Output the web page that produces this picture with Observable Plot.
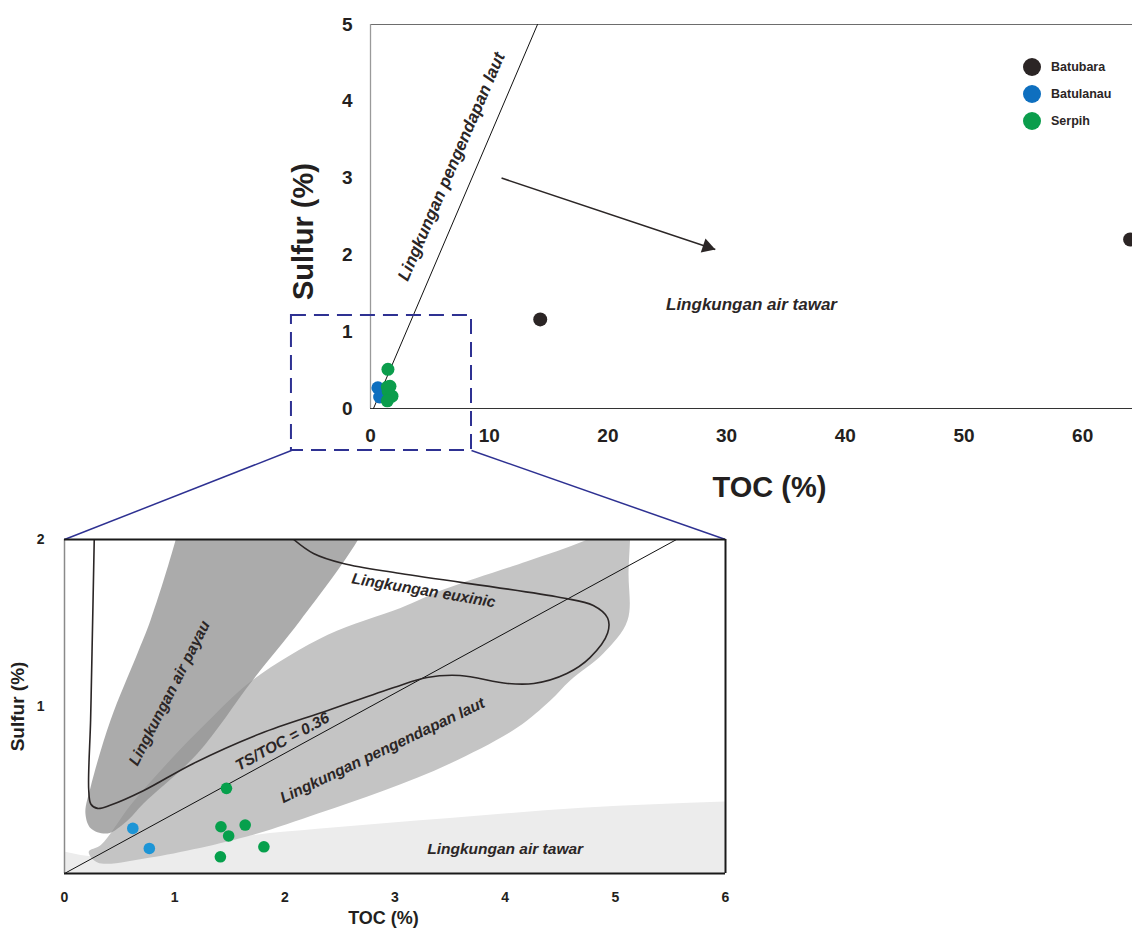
<!DOCTYPE html>
<html><head><meta charset="utf-8">
<script src="https://cdn.jsdelivr.net/npm/d3@7"></script>
<script src="https://cdn.jsdelivr.net/npm/@observablehq/plot@0.6"></script>
<style>
body{margin:0;background:#fff;}
#wrap{position:relative;width:1132px;height:931px;overflow:hidden;font-family:"Liberation Sans",Arial,sans-serif;}
#top{position:absolute;left:0;top:0;}
#bottom{position:absolute;left:0;top:500px;}
#legend{position:absolute;left:1023px;top:53.5px;}
.item{display:flex;align-items:center;height:27px;font-weight:bold;font-size:12.5px;color:#2b2525;}
.sw{width:18px;height:18px;border-radius:50%;margin-right:10px;}
</style></head><body>
<div id="wrap"><div id="top"></div><div id="bottom"></div><div id="legend"></div></div>
<script>
// ---- categories & colours
const types = ["Batubara", "Batulanau", "Serpih"];
const topColors = ["#2b2525", "#0e6fbf", "#0b9d4c"];
const bottomColors = ["#2b2525", "#1d95d6", "#06a04c"];

// ---- samples (TOC %, S %)
const sampleType = ["Batulanau", "Batulanau", "Serpih", "Serpih", "Serpih", "Serpih", "Serpih", "Serpih"];
const sampleToc = [0.62, 0.77, 1.47, 1.42, 1.49, 1.64, 1.81, 1.415];
const sampleS = [0.27, 0.15, 0.51, 0.28, 0.225, 0.29, 0.16, 0.10];
const coalType = ["Batubara", "Batubara"];
const coalToc = [14.3, 64.0];
const coalS = [1.16, 2.2];

// ---- ticks
const topXTicks = [0, 10, 20, 30, 40, 50, 60];
const topYTicks = [0, 1, 2, 3, 4, 5];
const topTocMax = 64.2;
const botXTicks = [0, 1, 2, 3, 4, 5, 6];
const botYTicks = [1, 2];

// ---- top chart annotations
const topRatioToc = [0.25, 14.07];
const topRatioS = [0, 5];
const arrowToc = [11.04, 29.05];
const arrowS = [3.0, 2.07];
const topLabelText = ["Lingkungan pengendapan laut", "Lingkungan air tawar"];
const topLabelToc = [6.82, 32.1];
const topLabelS = [3.15, 1.354];
const topLabelAngle = [-66.7, 0];
const zoomBoxToc = [-6.66, 8.51];
const zoomBoxS = [-0.547, 1.21];
const linkFromToc = [-6.66, 8.51];
const linkFromS = [-0.547, -0.547];
const linkToToc = [-25.78, 29.91];
const linkToS = [-1.706, -1.706];

// ---- bottom chart fields
const freshToc = [0, 0.3, 0.9, 1.7, 2.3, 3.5, 4.7, 6.0];
const freshS = [0.128, 0.098, 0.13, 0.226, 0.265, 0.33, 0.39, 0.428];
const marineToc = [0.22, 0.33, 0.6, 0.96, 1.33, 1.71, 2.39, 3.05, 3.44, 4.2, 4.71, 5.05, 5.12, 5.12, 5.11, 4.89, 4.59, 4.41, 4.11, 3.5, 2.9, 2.3, 1.69, 0.78, 0.3];
const marineS = [0.13, 0.17, 0.41, 0.68, 0.93, 1.16, 1.43, 1.59, 1.70, 1.87, 1.99, 2.1, 2.15, 1.8, 1.515, 1.317, 1.156, 1.036, 0.874, 0.659, 0.497, 0.359, 0.228, 0.096, 0.066];
const wedgeToc = [1.10, 1.007, 0.78, 0.662, 0.417, 0.236, 0.19, 0.24, 0.39, 0.56, 0.717, 1.207, 1.706, 2.14, 2.66, 2.85];
const wedgeS = [2.25, 1.994, 1.515, 1.317, 0.916, 0.515, 0.36, 0.27, 0.24, 0.31, 0.419, 0.719, 1.156, 1.515, 1.994, 2.25];
const euxToc = [0.27, 0.25, 0.237, 0.22, 0.24, 0.30, 0.42, 0.72, 1.17, 1.78, 2.39, 2.99, 3.29, 3.59, 4.02, 4.26, 4.56, 4.77, 4.93, 4.93, 4.80, 4.50, 3.05, 2.53, 2.26, 2.08];
const euxS = [2.0, 1.33, 0.92, 0.50, 0.415, 0.39, 0.41, 0.497, 0.659, 0.838, 0.976, 1.114, 1.174, 1.186, 1.138, 1.138, 1.198, 1.293, 1.44, 1.53, 1.605, 1.653, 1.796, 1.856, 1.916, 2.0];
const ratioToc = [0, 5.556];
const ratioS = [0, 2];
const botLabelText = ["Lingkungan euxinic", "Lingkungan air payau", "TS/TOC = 0.36", "Lingkungan pengendapan laut", "Lingkungan air tawar"];
const botLabelToc = [3.26, 0.953, 1.978, 2.886, 4.0];
const botLabelS = [1.695, 1.08, 0.79, 0.737, 0.144];
const botLabelAngle = [9.5, -63, -28.6, -25.5, 0];

// ---- tables
const zip = (a, b, extra = {}) => a.map((v, i) => Object.assign({x: v, y: b[i]}, Object.fromEntries(Object.entries(extra).map(([k, arr]) => [k, arr[i]]))));
const samples = zip(sampleToc, sampleS, {type: sampleType});
const coal = zip(coalToc, coalS, {type: coalType});
const topLabels = zip(topLabelToc, topLabelS, {text: topLabelText, angle: topLabelAngle});
const botLabels = zip(botLabelToc, botLabelS, {text: botLabelText, angle: botLabelAngle});
const links = linkFromToc.map((v, i) => ({x1: v, y1: linkFromS[i], x2: linkToToc[i], y2: linkToS[i]}));

const font = '"Liberation Sans", Arial, sans-serif';
const ink = "#2b2626";
const fmt = (d) => String(d);

// arrow head direction in pixels
const topW = 1132, topH = 545, topML = 370, topMT = 24, topMB = 137;
const pxX = (topW - topML) / topTocMax, pxY = (topH - topMT - topMB) / 5;
const ddx = (arrowToc[1] - arrowToc[0]) * pxX, ddy = (arrowS[0] - arrowS[1]) * pxY;
const ang = Math.atan2(ddy, ddx);
const headR = 5.5, apex = headR * Math.sqrt(Math.PI / (3 * Math.sqrt(3))) * 2;

const topPlot = Plot.plot({
  width: topW, height: topH,
  marginLeft: topML, marginRight: 0, marginTop: topMT, marginBottom: topMB,
  x: {domain: [0, topTocMax]}, y: {domain: [0, 5]},
  color: {domain: types, range: topColors},
  style: {background: "transparent", fontFamily: font, fontWeight: "bold", color: "#231f20", overflow: "visible"},
  marks: [
    Plot.ruleY([5], {stroke: "#6d6d6d", strokeWidth: 1}),
    Plot.ruleY([0], {stroke: "#333", strokeWidth: 1.2}),
    Plot.ruleX([0], {stroke: "#9a9a9a", strokeWidth: 1.3}),
    Plot.axisX(topXTicks, {tickSize: 0, tickPadding: 20, fontSize: 19, tickFormat: fmt, label: null}),
    Plot.axisY(topYTicks, {tickSize: 0, tickPadding: 18, fontSize: 19, tickFormat: fmt, label: null}),
    Plot.line(zip(topRatioToc, topRatioS), {x: "x", y: "y", stroke: "#111", strokeWidth: 1}),
    Plot.link([0], {x1: () => arrowToc[0], y1: () => arrowS[0], x2: () => arrowToc[1], y2: () => arrowS[1], stroke: ink, strokeWidth: 1.6}),
    Plot.dot([0], {x: () => arrowToc[1], y: () => arrowS[1], symbol: "triangle", r: headR, fill: ink, stroke: "none",
      rotate: 90 + ang * 180 / Math.PI, dx: -apex * Math.cos(ang), dy: -apex * Math.sin(ang)}),
    Plot.text(topLabels, {x: "x", y: "y", text: "text", rotate: "angle", fontSize: 17, fontStyle: "italic", fontWeight: "bold", fill: ink}),
    Plot.text(["Sulfur (%)"], {frameAnchor: "left", textAnchor: "middle", lineAnchor: "middle", rotate: -90, dx: -67, dy: 15, fontSize: 29, fontWeight: "bold", fill: "#231f20"}),
    Plot.text(["TOC (%)"], {frameAnchor: "bottom", textAnchor: "middle", lineAnchor: "middle", dx: 18, dy: 79, fontSize: 29, fontWeight: "bold", fill: "#231f20"}),
    Plot.dot(samples, {x: "x", y: "y", fill: "type", r: 6.5, stroke: "none"}),
    Plot.dot(coal, {x: "x", y: "y", fill: "type", r: 7, stroke: "none"}),
    Plot.rect([0], {x1: () => zoomBoxToc[0], x2: () => zoomBoxToc[1], y1: () => zoomBoxS[0], y2: () => zoomBoxS[1],
      fill: "none", stroke: "#2e3192", strokeWidth: 2, strokeDasharray: "15,8"}),
    Plot.link(links, {x1: "x1", y1: "y1", x2: "x2", y2: "y2", stroke: "#2e3192", strokeWidth: 1.5})
  ]
});
document.getElementById("top").appendChild(topPlot);

const bottomPlot = Plot.plot({
  width: 740, height: 431,
  marginLeft: 64, marginRight: 15, marginTop: 39, marginBottom: 58,
  x: {domain: [0, 6]}, y: {domain: [0, 2]},
  color: {domain: types, range: bottomColors},
  style: {background: "transparent", fontFamily: font, fontWeight: "bold", color: "#231f20", overflow: "visible"},
  marks: [
    Plot.areaY(zip(freshToc, freshS), {x: "x", y: "y", fill: "#ececec", curve: "monotone-x", clip: true}),
    Plot.line(zip(marineToc, marineS), {x: "x", y: "y", fill: "#c4c4c4", stroke: "none", curve: "catmull-rom-closed", clip: true}),
    Plot.line(zip(wedgeToc, wedgeS), {x: "x", y: "y", fill: "#909090", fillOpacity: 0.76, stroke: "none", curve: "catmull-rom-closed", clip: true}),
    Plot.line(zip(ratioToc, ratioS), {x: "x", y: "y", stroke: "#111", strokeWidth: 1}),
    Plot.line(zip(euxToc, euxS), {x: "x", y: "y", stroke: ink, strokeWidth: 1.6, curve: "catmull-rom", clip: true}),
    Plot.ruleX([0], {stroke: "#8a8a8a", strokeWidth: 1.5}),
    Plot.ruleY([2], {stroke: "#1a1a1a", strokeWidth: 2}),
    Plot.ruleY([0], {stroke: "#1a1a1a", strokeWidth: 2}),
    Plot.ruleX([6], {stroke: "#1a1a1a", strokeWidth: 2}),
    Plot.axisX(botXTicks, {tickSize: 0, tickPadding: 19, fontSize: 14, tickFormat: fmt, label: null}),
    Plot.axisY(botYTicks, {tickSize: 0, tickPadding: 20, fontSize: 14, tickFormat: fmt, label: null}),
    Plot.text(botLabels, {x: "x", y: "y", text: "text", rotate: "angle", fontSize: 15.5, fontStyle: "italic", fontWeight: "bold", fill: ink}),
    Plot.text(["Sulfur (%)"], {frameAnchor: "left", textAnchor: "middle", lineAnchor: "middle", rotate: -90, dx: -47, dy: 0, fontSize: 19, fontWeight: "bold", fill: "#231f20"}),
    Plot.text(["TOC (%)"], {frameAnchor: "bottom", textAnchor: "middle", lineAnchor: "middle", dx: -11.5, dy: 45, fontSize: 18, fontWeight: "bold", fill: "#231f20"}),
    Plot.dot(samples, {x: "x", y: "y", fill: "type", r: 5.8, stroke: "none"})
  ]
});
document.getElementById("bottom").appendChild(bottomPlot);

// legend
const legend = document.getElementById("legend");
types.forEach((t, i) => {
  const item = document.createElement("div");
  item.className = "item";
  const sw = document.createElement("span");
  sw.className = "sw";
  sw.style.background = topColors[i];
  item.appendChild(sw);
  item.appendChild(document.createTextNode(t));
  legend.appendChild(item);
});
</script>
</body></html>
